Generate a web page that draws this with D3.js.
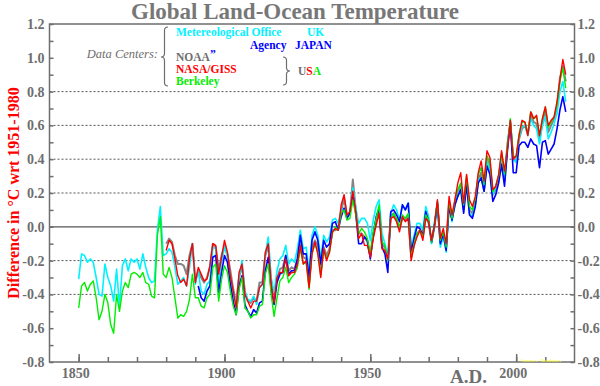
<!DOCTYPE html>
<html>
<head>
<meta charset="utf-8">
<script src="https://cdn.jsdelivr.net/npm/d3@7"></script>
<style>
  body { margin: 0; background: #fff; }
  svg { display: block; font-family: "Liberation Serif", "Times New Roman", serif; }
</style>
</head>
<body>
<div id="chart"></div>
<script>
// Annual anomalies, degrees C relative to 1951-1980
const hadcrutStart = 1850;
const hadcrut = [
  -0.31, -0.16, -0.17, -0.21, -0.19, -0.21, -0.30, -0.40, -0.41, -0.22,
  -0.30, -0.35, -0.44, -0.25, -0.47, -0.23, -0.19, -0.26, -0.19, -0.21,
  -0.19, -0.25, -0.16, -0.24, -0.30, -0.33, -0.32, -0.02, 0.12, -0.17,
  -0.16, -0.13, -0.15, -0.24, -0.34, -0.32, -0.30, -0.35, -0.24, -0.10,
  -0.34, -0.26, -0.38, -0.40, -0.34, -0.32, -0.12, -0.13, -0.34, -0.21,
  -0.12, -0.18, -0.32, -0.40, -0.44, -0.30, -0.20, -0.38, -0.43, -0.44,
  -0.41, -0.46, -0.36, -0.34, -0.16, -0.06, -0.30, -0.39, -0.26, -0.19,
  -0.17, -0.11, -0.22, -0.19, -0.21, -0.13, -0.02, -0.13, -0.12, -0.27,
  -0.05, 0.00, -0.05, -0.19, -0.05, -0.09, -0.06, 0.04, 0.05, 0.02,
  0.10, 0.11, 0.06, 0.08, 0.23, 0.11, 0.02, 0.05, 0.05, 0.02,
  -0.08, 0.04, 0.12, 0.16, -0.04, -0.10, -0.18, 0.08, 0.13, 0.10,
  0.04, 0.13, 0.10, 0.14, -0.13, -0.05, 0.02, 0.02, -0.02, 0.12,
  0.06, -0.10, 0.03, 0.15, -0.12, -0.06, -0.15, 0.14, 0.03, 0.15,
  0.18, 0.23, 0.10, 0.28, 0.08, 0.06, 0.13, 0.28, 0.29, 0.21,
  0.39, 0.34, 0.19, 0.24, 0.30, 0.41, 0.27, 0.48, 0.63, 0.40,
  0.38, 0.53, 0.59, 0.60, 0.54, 0.64, 0.60, 0.58, 0.49, 0.60,
  0.65, 0.52, 0.56, 0.61, 0.67, 0.80, 0.86, 0.74
];

const berkeleyStart = 1850;
const berkeley = [
  -0.48, -0.35, -0.33, -0.38, -0.34, -0.32, -0.42, -0.55, -0.50, -0.40,
  -0.45, -0.58, -0.63, -0.40, -0.50, -0.38, -0.33, -0.36, -0.28, -0.27,
  -0.28, -0.30, -0.27, -0.33, -0.34, -0.41, -0.42, -0.05, 0.06, -0.28,
  -0.30, -0.24, -0.30, -0.42, -0.54, -0.52, -0.53, -0.50, -0.43, -0.28,
  -0.42, -0.42, -0.47, -0.48, -0.42, -0.40, -0.24, -0.22, -0.44, -0.31,
  -0.23, -0.27, -0.38, -0.47, -0.52, -0.37, -0.30, -0.48, -0.50, -0.54,
  -0.52, -0.52, -0.47, -0.46, -0.28, -0.22, -0.40, -0.53, -0.42, -0.32,
  -0.30, -0.24, -0.33, -0.30, -0.28, -0.24, -0.13, -0.22, -0.21, -0.37,
  -0.16, -0.10, -0.15, -0.29, -0.14, -0.19, -0.15, -0.04, 0.00, -0.02,
  0.08, 0.10, 0.04, 0.05, 0.16, 0.07, -0.04, -0.01, -0.03, -0.07,
  -0.16, -0.03, 0.05, 0.13, -0.09, -0.11, -0.20, 0.05, 0.08, 0.05,
  0.00, 0.07, 0.05, 0.08, -0.18, -0.10, -0.04, -0.02, -0.06, 0.07,
  0.04, -0.09, 0.01, 0.15, -0.08, -0.03, -0.12, 0.15, 0.05, 0.16,
  0.22, 0.26, 0.13, 0.30, 0.12, 0.10, 0.17, 0.31, 0.35, 0.25,
  0.42, 0.38, 0.21, 0.24, 0.30, 0.44, 0.31, 0.48, 0.64, 0.42,
  0.41, 0.55, 0.62, 0.62, 0.55, 0.68, 0.64, 0.65, 0.54, 0.64,
  0.71, 0.59, 0.62, 0.65, 0.72, 0.86, 0.94, 0.82
];

const gissStart = 1880;
const giss = [
  -0.14, -0.08, -0.10, -0.19, -0.29, -0.33, -0.31, -0.35, -0.19, -0.10,
  -0.33, -0.24, -0.28, -0.32, -0.31, -0.23, -0.10, -0.11, -0.28, -0.18,
  -0.08, -0.15, -0.29, -0.38, -0.48, -0.27, -0.22, -0.40, -0.44, -0.48,
  -0.44, -0.44, -0.36, -0.34, -0.15, -0.10, -0.34, -0.45, -0.30, -0.27,
  -0.27, -0.19, -0.29, -0.27, -0.27, -0.22, -0.11, -0.22, -0.20, -0.36,
  -0.16, -0.09, -0.16, -0.30, -0.13, -0.20, -0.15, -0.03, -0.01, -0.02,
  0.13, 0.19, 0.07, 0.09, 0.21, 0.09, -0.07, -0.04, -0.11, -0.11,
  -0.18, -0.07, 0.01, 0.08, -0.13, -0.14, -0.19, 0.05, 0.06, 0.03,
  -0.03, 0.06, 0.03, 0.05, -0.20, -0.11, -0.06, -0.02, -0.08, 0.05,
  0.03, -0.08, 0.01, 0.16, -0.07, -0.01, -0.10, 0.18, 0.07, 0.16,
  0.26, 0.32, 0.14, 0.31, 0.16, 0.12, 0.18, 0.32, 0.39, 0.27,
  0.45, 0.41, 0.22, 0.24, 0.31, 0.45, 0.33, 0.46, 0.63, 0.40,
  0.42, 0.54, 0.63, 0.62, 0.54, 0.68, 0.64, 0.66, 0.54, 0.64,
  0.71, 0.60, 0.63, 0.65, 0.74, 0.87, 0.99, 0.90
];

const noaaStart = 1880;
const noaa = [
  -0.10, -0.07, -0.09, -0.17, -0.22, -0.22, -0.23, -0.28, -0.17, -0.10,
  -0.32, -0.26, -0.30, -0.33, -0.30, -0.24, -0.10, -0.12, -0.26, -0.17,
  -0.11, -0.16, -0.26, -0.37, -0.45, -0.30, -0.23, -0.39, -0.44, -0.45,
  -0.42, -0.44, -0.33, -0.33, -0.17, -0.11, -0.33, -0.40, -0.31, -0.25,
  -0.24, -0.17, -0.26, -0.24, -0.25, -0.19, -0.09, -0.18, -0.19, -0.33,
  -0.12, -0.08, -0.11, -0.26, -0.12, -0.17, -0.13, -0.02, -0.02, -0.01,
  0.09, 0.17, 0.06, 0.08, 0.28, 0.10, -0.04, -0.04, -0.06, -0.09,
  -0.17, -0.04, 0.04, 0.10, -0.11, -0.12, -0.19, 0.06, 0.08, 0.04,
  -0.01, 0.05, 0.04, 0.06, -0.18, -0.11, -0.04, -0.02, -0.06, 0.06,
  0.02, -0.09, 0.00, 0.13, -0.09, -0.04, -0.12, 0.15, 0.05, 0.13,
  0.21, 0.24, 0.12, 0.28, 0.10, 0.08, 0.15, 0.28, 0.32, 0.22,
  0.40, 0.35, 0.19, 0.22, 0.29, 0.41, 0.27, 0.49, 0.61, 0.40,
  0.39, 0.52, 0.58, 0.60, 0.55, 0.66, 0.62, 0.61, 0.52, 0.62,
  0.69, 0.56, 0.60, 0.64, 0.71, 0.88, 0.95, 0.86
];

const jmaStart = 1891;
const jma = [
  -0.35, -0.42, -0.44, -0.38, -0.35, -0.18, -0.17, -0.39, -0.27,
  -0.17, -0.21, -0.34, -0.44, -0.52, -0.35, -0.29, -0.46, -0.50, -0.53,
  -0.49, -0.51, -0.45, -0.44, -0.26, -0.18, -0.37, -0.46, -0.33, -0.28,
  -0.27, -0.17, -0.28, -0.26, -0.26, -0.19, -0.05, -0.16, -0.16, -0.30,
  -0.08, -0.03, -0.08, -0.22, -0.08, -0.12, -0.10, 0.02, 0.03, -0.02,
  0.06, 0.11, 0.05, 0.08, 0.19, 0.08, -0.10, -0.10, -0.06, -0.08,
  -0.19, -0.05, 0.06, 0.11, -0.12, -0.16, -0.27, 0.09, 0.10, 0.07,
  0.03, 0.13, 0.10, 0.14, -0.15, -0.07, 0.00, -0.01, -0.05, 0.09,
  0.03, -0.09, 0.01, 0.14, -0.10, -0.04, -0.14, 0.12, 0.04, 0.13,
  0.18, 0.22, 0.08, 0.25, 0.07, 0.05, 0.12, 0.26, 0.29, 0.21,
  0.36, 0.31, 0.15, 0.19, 0.26, 0.37, 0.24, 0.45, 0.62, 0.32,
  0.32, 0.48, 0.50, 0.50, 0.47, 0.52, 0.49, 0.48, 0.35, 0.50,
  0.51, 0.43, 0.46, 0.49, 0.58, 0.69, 0.77, 0.68
];

const yTicks = [-0.8, -0.6, -0.4, -0.2, 0.0, 0.2, 0.4, 0.6, 0.8, 1.0, 1.2];
const yGrid = [-0.4, -0.2, 0.2, 0.4, 0.6, 0.8];
const xMinorTicks = d3.range(1850, 2011, 10);
const xLabels = [1850, 1900, 1950, 2000];

class TempChart {

  constructor(_config) {
    this.config = {
      parentElement: _config.parentElement,
      containerWidth: 600,
      containerHeight: 386,
      margin: {top: 24, right: 25.5, bottom: 24, left: 49.5},
      gray: '#6e6e6e'
    }
    this.initVis();
  }

  initVis() {
    let vis = this;

    vis.width = vis.config.containerWidth - vis.config.margin.left - vis.config.margin.right;
    vis.height = vis.config.containerHeight - vis.config.margin.top - vis.config.margin.bottom;

    vis.svg = d3.select(vis.config.parentElement).append('svg')
        .attr('width', vis.config.containerWidth)
        .attr('height', vis.config.containerHeight);

    vis.chart = vis.svg.append('g')
        .attr('transform', `translate(${vis.config.margin.left},${vis.config.margin.top})`);

    vis.xScale = d3.scaleLinear().domain([1840, 2020]).range([0, vis.width]);
    vis.yScale = d3.scaleLinear().domain([-0.8, 1.2]).range([vis.height, 0]);

    // series table built from the arrays above, drawn back to front
    vis.series = [
      {name: 'NOAA', start: noaaStart, values: noaa, color: '#858585', width: 2},
      {name: 'HadCRUT', start: hadcrutStart, values: hadcrut, color: '#00f2ff', width: 1.6},
      {name: 'JMA', start: jmaStart, values: jma, color: '#0000ff', width: 1.6},
      {name: 'Berkeley', start: berkeleyStart, values: berkeley, color: '#00ee00', width: 1.4},
      {name: 'NASA/GISS', start: gissStart, values: giss, color: '#ff0000', width: 1.4}
    ].map(s => ({...s, points: s.values.map((v, i) => ({year: s.start + i, value: v}))}));

    vis.renderVis();
  }

  renderVis() {
    let vis = this;
    const gray = vis.config.gray;

    // dotted gridlines and zero line
    vis.chart.selectAll('.grid')
        .data(yGrid)
      .join('line')
        .attr('class', 'grid')
        .attr('x1', 0).attr('x2', vis.width)
        .attr('y1', d => vis.yScale(d)).attr('y2', d => vis.yScale(d))
        .attr('stroke', '#555')
        .attr('stroke-width', 1)
        .attr('stroke-dasharray', '2,2');

    vis.chart.append('line')
        .attr('x1', 0).attr('x2', vis.width)
        .attr('y1', vis.yScale(0)).attr('y2', vis.yScale(0))
        .attr('stroke', '#555')
        .attr('stroke-width', 1.2);

    // data lines
    const line = d3.line()
        .x(d => vis.xScale(d.year))
        .y(d => vis.yScale(d.value));

    vis.chart.selectAll('.series')
        .data(vis.series)
      .join('path')
        .attr('class', 'series')
        .attr('fill', 'none')
        .attr('stroke', d => d.color)
        .attr('stroke-width', d => d.width)
        .attr('stroke-linejoin', 'round')
        .attr('d', d => line(d.points));

    // frame
    vis.chart.append('rect')
        .attr('width', vis.width)
        .attr('height', vis.height)
        .attr('fill', 'none')
        .attr('stroke', gray)
        .attr('stroke-width', 1.5);

    // axes: ticks point inside the frame
    const yMinor = d3.range(-0.8, 1.21, 0.1);
    const leftAxis = d3.axisLeft(vis.yScale).tickValues(yMinor).tickSize(-4).tickFormat('');
    const rightAxis = d3.axisRight(vis.yScale).tickValues(yMinor).tickSize(-4).tickFormat('');
    const minorAxis = d3.axisBottom(vis.xScale).tickValues(xMinorTicks).tickSize(-5).tickFormat('');
    const majorAxis = d3.axisBottom(vis.xScale).tickValues(xLabels).tickSize(-8).tickFormat('');

    [
      vis.chart.append('g').call(leftAxis),
      vis.chart.append('g').attr('transform', `translate(${vis.width},0)`).call(rightAxis),
      vis.chart.append('g').attr('transform', `translate(0,${vis.height})`).call(minorAxis),
      vis.chart.append('g').attr('transform', `translate(0,${vis.height})`).call(majorAxis)
    ].forEach(g => {
      g.select('.domain').remove();
      g.selectAll('line').attr('stroke', gray).attr('stroke-width', 1.5);
    });

    const labelStyle = sel => sel
        .attr('fill', gray)
        .attr('font-size', 14)
        .attr('font-weight', 'bold');

    vis.chart.selectAll('.ylab-left')
        .data(yTicks)
      .join('text')
        .attr('class', 'ylab-left')
        .attr('x', -5)
        .attr('y', d => vis.yScale(d))
        .attr('dy', '0.35em')
        .attr('text-anchor', 'end')
        .text(d => d3.format('.1f')(d).replace('−', '-'))
        .call(labelStyle);

    vis.chart.selectAll('.ylab-right')
        .data(yTicks)
      .join('text')
        .attr('class', 'ylab-right')
        .attr('x', vis.width + 3)
        .attr('y', d => vis.yScale(d))
        .attr('dy', '0.35em')
        .text(d => d3.format('.1f')(d).replace('−', '-'))
        .call(labelStyle);

    vis.chart.selectAll('.xlab')
        .data(xLabels)
      .join('text')
        .attr('class', 'xlab')
        .attr('x', d => vis.xScale(d) - 3)
        .attr('y', vis.height + 16)
        .attr('text-anchor', 'middle')
        .text(d => d)
        .call(labelStyle);

    vis.svg.append('text')
        .attr('x', 450).attr('y', 383)
        .attr('fill', gray)
        .attr('font-size', 19)
        .attr('font-weight', 'bold')
        .text('A.D.');

    // title and axis title
    vis.svg.append('text')
        .attr('x', 295).attr('y', 19)
        .attr('text-anchor', 'middle')
        .attr('fill', '#777')
        .attr('font-size', 23)
        .attr('font-weight', 'bold')
        .text('Global Land-Ocean Temperature');

    vis.svg.append('text')
        .attr('transform', `translate(19,${vis.config.margin.top + vis.height / 2}) rotate(-90)`)
        .attr('text-anchor', 'middle')
        .attr('fill', '#ff0000')
        .attr('font-size', 16)
        .attr('font-weight', 'bold')
        .text('Difference in °C wrt 1951-1980');

    vis.svg.append('text')
        .attr('x', 521).attr('y', 362)
        .attr('fill', '#ffff00')
        .attr('font-size', 5)
        .text('Sources : Databases');

    vis.renderLegend();
  }

  renderLegend() {
    let vis = this;
    const gray = vis.config.gray;
    const g = vis.svg.append('g').attr('font-weight', 'bold').attr('font-size', 11.5);

    const brace = (x0, x1, y1, ym, y2) => {
      const xm = (x0 + x1) / 2, r = Math.abs(x1 - x0) / 2;
      return `M${x1},${y1} Q${xm},${y1} ${xm},${y1 + r} L${xm},${ym - r} Q${xm},${ym} ${x0},${ym}`
        + ` Q${xm},${ym} ${xm},${ym + r} L${xm},${y2 - r} Q${xm},${y2} ${x1},${y2}`;
    };

    vis.svg.append('text')
        .attr('x', 158).attr('y', 58)
        .attr('text-anchor', 'end')
        .attr('font-style', 'italic')
        .attr('font-size', 12.5)
        .attr('fill', gray)
        .text('Data Centers:');

    vis.svg.append('path')
        .attr('d', brace(161, 168, 27, 57, 86))
        .attr('fill', 'none').attr('stroke', gray).attr('stroke-width', 1.2);

    vis.svg.append('path')
        .attr('d', brace(290, 283, 57, 71, 85))
        .attr('fill', 'none').attr('stroke', gray).attr('stroke-width', 1.2);

    const items = [
      {t: 'Metereological Office', x: 176, y: 36, c: '#00f2ff'},
      {t: 'UK', x: 307, y: 36, c: '#00f2ff'},
      {t: 'Agency', x: 250, y: 49, c: '#0000ff'},
      {t: 'JAPAN', x: 295, y: 49, c: '#0000ff'},
      {t: 'NOAA', x: 176, y: 61, c: gray},
      {t: '\u201D', x: 210, y: 58, c: '#0000ff'},
      {t: 'NASA/GISS', x: 176, y: 73, c: '#ff0000'},
      {t: 'Berkeley', x: 176, y: 85, c: '#00ee00'}
    ];
    g.selectAll('text')
        .data(items)
      .join('text')
        .attr('x', d => d.x).attr('y', d => d.y)
        .attr('fill', d => d.c)
        .text(d => d.t);

    const usa = g.append('text').attr('x', 298).attr('y', 75);
    usa.append('tspan').attr('fill', gray).text('U');
    usa.append('tspan').attr('fill', '#ff0000').text('S');
    usa.append('tspan').attr('fill', '#00ee00').text('A');
  }
}

new TempChart({parentElement: '#chart'});
</script>
</body>
</html>
